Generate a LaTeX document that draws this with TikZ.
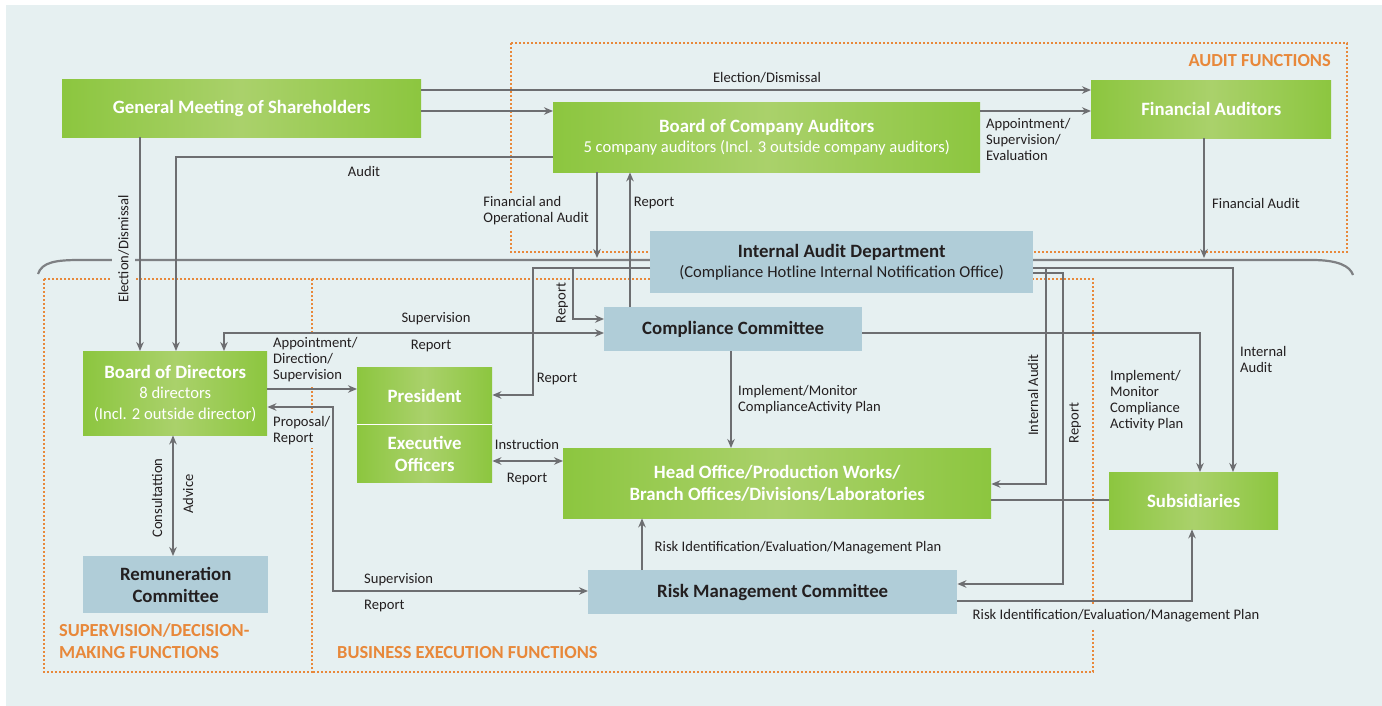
\documentclass[tikz,border=0pt]{standalone}
\usepackage{fontspec}
\setmainfont{Carlito}
\usetikzlibrary{arrows.meta}

\definecolor{bg}{HTML}{E6F0F1}
\definecolor{grn}{HTML}{8CC63F}
\definecolor{grnlt}{HTML}{AAD16B}
\definecolor{blu}{HTML}{B0CDD8}
\definecolor{ln}{HTML}{6D6E71}
\definecolor{brk}{HTML}{7E8083}
\definecolor{org}{HTML}{E8883A}
\definecolor{ink}{HTML}{231F20}

\newcommand\fntbox{\fontsize{18.8}{22}\selectfont\bfseries}
\newcommand\fntsub{\fontsize{16.6}{20.5}\selectfont}
\newcommand\fntlbl{\fontsize{14.6}{16}\selectfont}
\newcommand\fnthead{\fontsize{18.4}{22}\selectfont\bfseries}

\begin{document}
\begin{tikzpicture}[x=1pt,y=-1pt,
  greenbox/.style={anchor=north west, inner sep=0pt, left color=grn, right color=grn,
    middle color=grnlt, text=white, align=center, font=\fntbox},
  bluebox/.style={anchor=north west, inner sep=0pt, fill=blu, text=ink, align=center, font=\fntbox},
  arr/.style={draw=ln, line width=1.3pt, -{Stealth[length=9pt,width=7.5pt]}},
  darr/.style={draw=ln, line width=1.3pt, {Stealth[length=9pt,width=7.5pt]}-{Stealth[length=9pt,width=7.5pt]}},
  plain/.style={draw=ln, line width=1.3pt},
  lbl/.style={text=ink, font=\fntlbl, inner sep=1pt, align=left},
  lblbg/.style={lbl, fill=bg, inner sep=4pt},
  dots/.style={draw=org, line width=2.7pt, dash pattern=on 2.2pt off 1.8pt},
  head/.style={text=org, font=\fnthead, inner sep=0pt, align=left}]

\useasboundingbox (0,0) rectangle (1382,706);
\fill[white] (0,0) rectangle (1382,706);
\fill[bg] (6,5) rectangle (1382,706);

% bracket separating the audit area from the company
\draw[brk, line width=2.2pt] (38,274) .. controls (42,262) and (56,260) .. (80,260)
  -- (1312,260) .. controls (1338,260) and (1350,266) .. (1353,275);

% dotted function areas
\draw[dots] (511,43) rectangle (1347,252);
\draw[dots] (44,279) rectangle (312,672);
\draw[dots] (312,279) -- (1093,279) -- (1093,672) -- (312,672);

% labels that sit over the area outlines
\node[lblbg, rotate=90, inner xsep=2pt, inner ysep=6pt] (lelect) at (123.5,249) {Election/Dismissal};
\node[lblbg, anchor=east, inner sep=4pt] (lfinop) at (593,211) {Financial and\\Operational Audit};
\node[lblbg, anchor=north west, inner sep=3pt] (lappdir) at (270,334) {Appointment/\\Direction/\\Supervision};
\node[lblbg, anchor=north west, inner sep=3pt] (lprop) at (270,413) {Proposal/\\Report};
\node[lblbg, inner xsep=2pt, inner ysep=6pt] (lriskb) at (1116,616) {Risk Identification/Evaluation/Management Plan};

% boxes
\node[greenbox, minimum width=359pt, minimum height=58pt] (gms) at (62,79) {General Meeting of Shareholders};
\node[greenbox, minimum width=427pt, minimum height=70pt, font=\fntsub] (bca) at (553,102)
  {{\fntbox Board of Company Auditors}\\5 company auditors (Incl. 3 outside company auditors)};
\node[greenbox, minimum width=240pt, minimum height=58pt] (fa) at (1091,80) {Financial Auditors};
\node[bluebox, minimum width=383pt, minimum height=62pt, font=\fntsub] (iad) at (650,231)
  {{\fntbox Internal Audit Department}\\(Compliance Hotline Internal Notification Office)};
\node[bluebox, minimum width=258pt, minimum height=44pt] (cc) at (604,307) {Compliance Committee};
\node[greenbox, minimum width=184pt, minimum height=84pt, font=\fntsub] (bod) at (83,351)
  {{\fntbox Board of Directors}\\8 directors\\(Incl. 2 outside director)};
\node[greenbox, minimum width=135pt, minimum height=57pt] (pres) at (357,367) {President};
\node[greenbox, minimum width=135pt, minimum height=57pt] (exec) at (357,425) {Executive\\Officers};
\draw[white, line width=1pt] (pres.south west) -- (pres.south east);
\node[greenbox, minimum width=428pt, minimum height=70pt] (ho) at (563,448)
  {Head Office/Production Works/\\Branch Offices/Divisions/Laboratories};
\node[greenbox, minimum width=169pt, minimum height=57pt] (sub) at (1109,472) {Subsidiaries};
\node[bluebox, minimum width=185pt, minimum height=57pt] (rc) at (83,556) {Remuneration\\Committee};
\node[bluebox, minimum width=369pt, minimum height=44pt] (rmc) at (588,570) {Risk Management Committee};

% free ends on the bracket
\coordinate (finopend) at (597,258);
\coordinate (finend) at (1204,258);

% connectors
\draw[arr] (gms.east |- 0,90) -- (fa.west |- 0,90);
\draw[arr] (gms.east |- 0,111) -- (bca.west |- 0,111);
\draw[arr] (bca.east |- 0,111) -- (fa.west |- 0,111);
\draw[arr] (bca.west |- 0,157) -| (bod.north -| 176,0);
\draw[arr] (gms.south -| 140,0) -- (bod.north -| 140,0);
\draw[arr] (bca.south -| 597,0) -- (finopend);
\draw[arr] (cc.north -| 630,0) -- (bca.south -| 630,0);
\draw[arr] (fa.south -| 1204,0) -- (finend);
\draw[darr] (cc.west |- 0,333) -| (bod.north -| 224,0);
\draw[arr] (iad.west |- 0,268) -| (573,319) -- (cc.west |- 0,319);
\draw[arr] (iad.west |- 0,268) -| (533,395) -- (pres.east |- 0,395);
\draw[arr] (cc.east |- 0,333) -| (sub.north -| 1200,0);
\draw[arr] (iad.east |- 0,268) -| (sub.north -| 1233,0);
\draw[arr] (iad.east |- 0,268) -| (1046,484) -- (ho.east |- 0,484);
\draw[arr] (iad.east |- 0,273) -| (1063,584) -- (rmc.east |- 0,584);
\draw[plain] (ho.east |- 0,500) -- (sub.west |- 0,500);
\draw[arr] (cc.south -| 731,0) -- (ho.north -| 731,0);
\draw[darr] (exec.east |- 0,461) -- (ho.west |- 0,461);
\draw[arr] (bod.east |- 0,389) -- (pres.west |- 0,389);
\draw[darr] (rmc.west |- 0,591) -| (333,407) -- (bod.east |- 0,407);
\draw[darr] (bod.south -| 173,0) -- (rc.north -| 173,0);
\draw[arr] (rmc.north -| 642,0) -- (ho.south -| 642,0);
\draw[arr] (rmc.east |- 0,601) -| (sub.south -| 1192,0);

% connector labels
\node[lbl] (lelecttop) at (767,78) {Election/Dismissal};
\node[lbl, anchor=north west] (lappsup) at (985,117) {Appointment/\\Supervision/\\Evaluation};
\node[lbl] (laudit) at (364,171) {Audit};
\node[lbl] (lrepbca) at (654,203) {Report};
\node[lbl] (lfinaud) at (1256,203) {Financial Audit};
\node[lbl] (lsupcc) at (436,319) {Supervision};
\node[lbl] (lrepcc) at (431,346) {Report};
\node[lbl, rotate=90] (lrepvert) at (562,303) {Report};
\node[lbl] (lreppres) at (557,379) {Report};
\node[lbl, anchor=north west] (limplho) at (737,384) {Implement/Monitor\\ComplianceActivity Plan};
\node[lbl, anchor=north west] (limplsub) at (1109,369) {Implement/\\Monitor\\Compliance\\Activity Plan};
\node[lbl, anchor=north west] (lintsub) at (1239,345) {Internal\\Audit};
\node[lbl, rotate=90] (lintho) at (1033,395) {Internal Audit};
\node[lbl, rotate=90] (lreprmc) at (1075,423) {Report};
\node[lbl] (linstr) at (527,445) {Instruction};
\node[lbl] (lrepexec) at (527,479) {Report};
\node[lbl, rotate=90] (lconsult) at (157,498) {Consultattion};
\node[lbl, rotate=90] (ladvice) at (188,494) {Advice};
\node[lbl, anchor=west] (lsupbot) at (363,580) {Supervision};
\node[lbl, anchor=west] (lrepbot) at (363,606) {Report};
\node[lbl] (lriskt) at (798,548) {Risk Identification/Evaluation/Management Plan};

% area headings
\node[head, anchor=east] (haudit) at (1331,61) {AUDIT FUNCTIONS};
\node[head, anchor=north west] (hsup) at (59,623) {SUPERVISION/DECISION-\\MAKING FUNCTIONS};
\node[head, anchor=west] (hbus) at (337,653) {BUSINESS EXECUTION FUNCTIONS};
\end{tikzpicture}
\end{document}
